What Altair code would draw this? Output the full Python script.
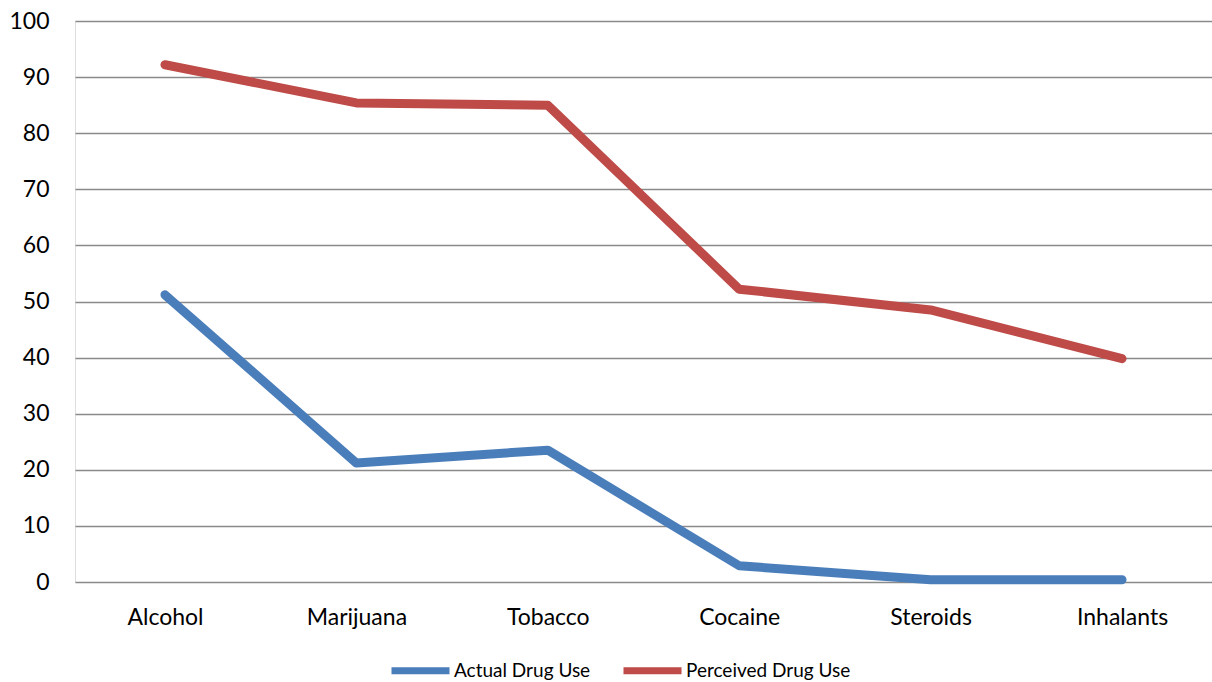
import altair as alt
import pandas as pd

categories = ["Alcohol", "Marijuana", "Tobacco", "Cocaine", "Steroids", "Inhalants"]
actual = [51.2, 21.2, 23.5, 2.9, 0.4, 0.4]
perceived = [92.2, 85.4, 85.0, 52.2, 48.5, 39.8]
series = ["Actual Drug Use", "Perceived Drug Use"]
colors = ["#4A7EBB", "#BE4B48"]

rows = []
for c, a, p in zip(categories, actual, perceived):
    rows.append({"cat": c, "series": series[0], "value": a})
    rows.append({"cat": c, "series": series[1], "value": p})
df = pd.DataFrame(rows)

FONT = "Lato"

chart = alt.Chart(df).mark_line(strokeWidth=9, strokeCap="round", strokeJoin="round").encode(
    x=alt.X("cat:N", sort=categories, title=None,
            scale=alt.Scale(type="point", padding=0.47),
            axis=alt.Axis(labelAngle=0, ticks=False, domain=False, grid=False,
                          labelFontSize=23, labelPadding=24, labelColor="#000000",
                          labelFont=FONT)),
    y=alt.Y("value:Q", title=None,
            scale=alt.Scale(domain=[0, 100], nice=False),
            axis=alt.Axis(values=list(range(0, 101, 10)), ticks=False, domain=False,
                          grid=True, gridColor="#8a8a8a", gridWidth=1.5,
                          labelFontSize=23, labelPadding=26, labelColor="#000000",
                          labelFont=FONT)),
    color=alt.Color("series:N", sort=series,
                    scale=alt.Scale(domain=series, range=colors),
                    legend=alt.Legend(title=None, orient="none", legendX=313, legendY=617,
                                      direction="horizontal", symbolType="stroke",
                                      symbolSize=3364, symbolStrokeWidth=7,
                                      labelFontSize=19, labelFont=FONT, labelColor="#000000",
                                      labelOffset=1, labelLimit=400, columnPadding=18)),
).properties(
    width=1137, height=561,
    padding={"left": 75, "top": 21, "right": 0, "bottom": 100},
    autosize=alt.AutoSizeParams(type="none"),
).configure_view(stroke=None).configure(background="white")

chart.save("out.html", embed_options={"renderer": "svg", "actions": False})
